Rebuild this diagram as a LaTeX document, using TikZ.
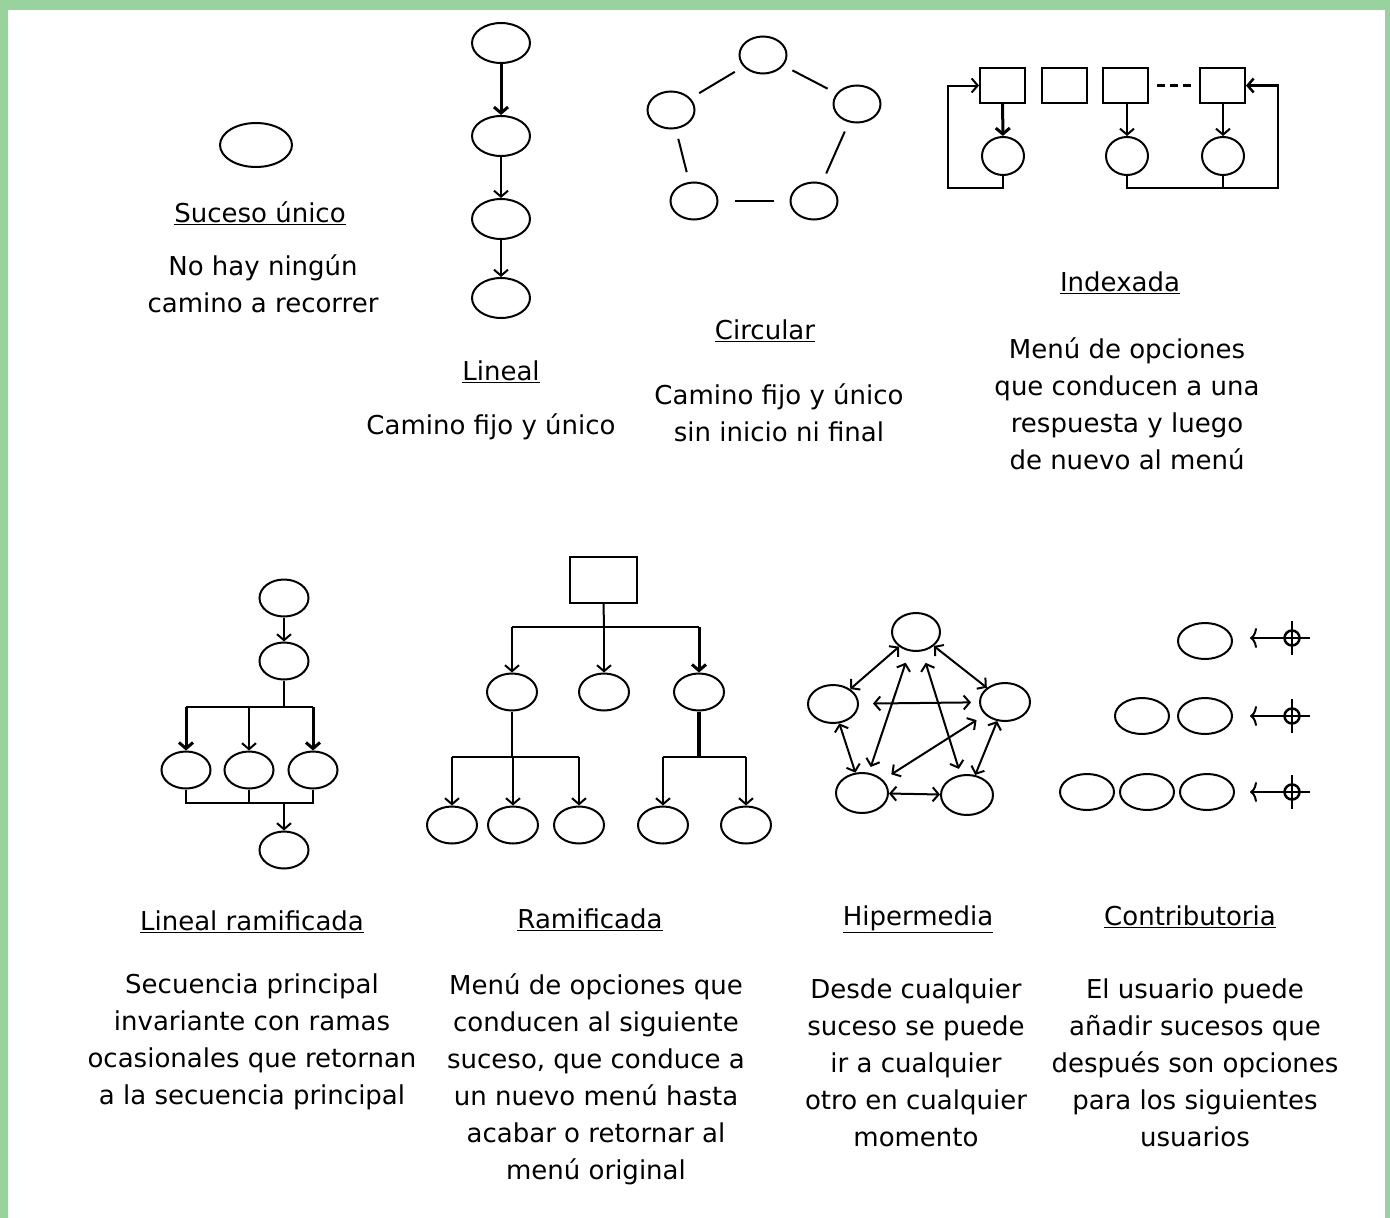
\documentclass[tikz,border=0pt]{standalone}
\usepackage{fontspec}
\setmainfont{DejaVu Sans}
\usetikzlibrary{shapes.geometric,arrows.meta}
\definecolor{frame}{HTML}{98D39E}
\tikzset{
  ev/.style={draw, ellipse, line width=2pt, minimum width=48pt, minimum height=37pt, inner sep=0pt},
  boxn/.style={draw, rectangle, line width=2pt, minimum width=45pt, minimum height=35pt, inner sep=0pt},
  con/.style={line width=2pt},
  arr/.style={con, -{Straight Barb[length=6pt,width=14pt]}},
  darr/.style={con, {Straight Barb[length=6pt,width=14pt]}-{Straight Barb[length=6pt,width=14pt]}},
  harr/.style={con, -{To[length=7pt,width=20pt]}},
  ttl/.style={font=\fontsize{26}{37}\selectfont, inner sep=0pt},
  txt/.style={font=\fontsize{26}{37}\selectfont, align=center, inner sep=0pt},
}
\begin{document}
\begin{tikzpicture}[x=1pt,y=-1pt]
\fill[frame] (0,0) rectangle (1390,1218);
\fill[white] (8,10) rectangle (1385,1218);
\useasboundingbox (0,0) rectangle (1390,1218);

% ---------- Suceso unico
\node[ev, minimum width=72pt, minimum height=44pt] (s) at (256,145) {};
\node[ttl, anchor=base] (st) at (260,222) {\underline{Suceso único}};
\node[txt] (sd) at (263,284) {No hay ningún\\camino a recorrer};

% ---------- Lineal
\node[ev, minimum width=58pt, minimum height=40pt] (l1) at (501,43) {};
\node[ev, minimum width=58pt, minimum height=40pt] (l2) at (501,136) {};
\node[ev, minimum width=58pt, minimum height=40pt] (l3) at (501,219) {};
\node[ev, minimum width=58pt, minimum height=40pt] (l4) at (501,298) {};
\draw[arr, line width=3pt] (l1) -- (l2);
\draw[arr] (l2) -- (l3);
\draw[arr] (l3) -- (l4);
\node[ttl, anchor=base] (lt) at (501,380) {\underline{Lineal}};
\node[txt] (ld) at (491,427) {Camino fijo y único};

% ---------- Circular
\node[ev, minimum width=47pt] (c1) at (763,55) {};
\node[ev, minimum width=47pt] (c2) at (671,110) {};
\node[ev, minimum width=47pt] (c3) at (857,104) {};
\node[ev, minimum width=47pt] (c4) at (694,201) {};
\node[ev, minimum width=47pt] (c5) at (814,201) {};
\draw[con, shorten <=10pt, shorten >=10pt] (c1) -- (c2);
\draw[con, shorten <=10pt, shorten >=10pt] (c1) -- (c3);
\draw[con, shorten <=10pt, shorten >=10pt] (c2) -- (c4);
\draw[con, shorten <=10pt, shorten >=10pt] (c3) -- (c5);
\draw[con, shorten <=16pt, shorten >=16pt] (c4) -- (c5);
\node[ttl, anchor=base] (ct) at (765,339) {\underline{Circular}};
\node[txt] (cd) at (779,413) {Camino fijo y único\\sin inicio ni final};

% ---------- Indexada
\node[boxn] (b1) at (1002.5,85.5) {};
\node[boxn] (b2) at (1064.5,85.5) {};
\node[boxn] (b3) at (1125.5,85.5) {};
\node[boxn] (b4) at (1222.5,85.5) {};
\node[ev, minimum width=42pt, minimum height=38pt] (i1) at (1003,156) {};
\node[ev, minimum width=42pt, minimum height=38pt] (i2) at (1127,156) {};
\node[ev, minimum width=42pt, minimum height=38pt] (i3) at (1223,156) {};
\coordinate (iL) at (948,188);
\coordinate (iR) at (1278,188);
\draw[con, line width=2.5pt, dash pattern=on 8pt off 5pt, shorten <=8pt, shorten >=4pt] (b3.east) -- (b4.west);
\draw[arr, line width=3pt] (b1) -- (i1);
\draw[arr] (b3.south -| i2) -- (i2);
\draw[arr] (b4.south -| i3) -- (i3);
\draw[arr] (i1.south) |- (iL) |- (b1.west);
\draw[arr, line width=2.5pt] (i2.south) |- (iR) |- (b4.east);
\draw[con] (i3.south) -- (i3.south |- iR);
\node[ttl, anchor=base] (it) at (1120,291) {\underline{Indexada}};
\node[txt] (id) at (1127,404) {Menú de opciones\\que conducen a una\\respuesta y luego\\de nuevo al menú};

% ---------- Lineal ramificada
\node[ev, minimum width=49pt] (r1) at (284,598) {};
\node[ev, minimum width=49pt] (r2) at (284,661) {};
\node[ev, minimum width=49pt] (r3) at (186,770) {};
\node[ev, minimum width=49pt] (r4) at (249,770) {};
\node[ev, minimum width=49pt] (r5) at (313,770) {};
\node[ev, minimum width=49pt] (r6) at (284,850) {};
\coordinate (rb1) at (284,707);
\coordinate (rb2) at (284,803);
\draw[arr] (r1) -- (r2);
\draw[con] (r2.south) -- (rb1);
\draw[con] (r3.north |- rb1) -- (r5.north |- rb1);
\draw[arr, line width=3pt] (r3.north |- rb1) -- (r3.north);
\draw[arr] (r4.north |- rb1) -- (r4.north);
\draw[arr, line width=3pt] (r5.north |- rb1) -- (r5.north);
\draw[con] (r3.south) -- (r3.south |- rb2) -- (r5.south |- rb2) -- (r5.south);
\draw[con] (r4.south) -- (r4.south |- rb2);
\draw[arr] (rb2) -- (r6.north);
\node[ttl, anchor=base] (rt) at (252,930) {\underline{Lineal ramificada}};
\node[txt] (rd) at (252,1042) {Secuencia principal\\invariante con ramas\\ocasionales que retornan\\a la secuencia principal};

% ---------- Ramificada
\node[boxn, minimum width=67pt, minimum height=46pt] (m) at (603.5,580) {};
\node[ev, minimum width=50pt] (a1) at (512,692) {};
\node[ev, minimum width=50pt] (a2) at (604,692) {};
\node[ev, minimum width=50pt] (a3) at (699,692) {};
\node[ev, minimum width=50pt] (d1) at (452,825) {};
\node[ev, minimum width=50pt] (d2) at (513,825) {};
\node[ev, minimum width=50pt] (d3) at (579,825) {};
\node[ev, minimum width=50pt] (d4) at (663,825) {};
\node[ev, minimum width=50pt] (d5) at (746,825) {};
\coordinate (mb) at (604,627);
\coordinate (ab1) at (512,757);
\coordinate (ab3) at (699,757);
\draw[con] (m.south) -- (mb);
\draw[con] (a1.north |- mb) -- (a3.north |- mb);
\draw[arr] (a1.north |- mb) -- (a1.north);
\draw[arr] (mb) -- (a2.north);
\draw[arr, line width=3pt] (a3.north |- mb) -- (a3.north);
\draw[con] (a1.south) -- (ab1);
\draw[con] (d1.north |- ab1) -- (d3.north |- ab1);
\draw[arr] (d1.north |- ab1) -- (d1.north);
\draw[arr] (d2.north |- ab1) -- (d2.north);
\draw[arr] (d3.north |- ab1) -- (d3.north);
\draw[con, line width=3.5pt] (a3.south) -- (ab3);
\draw[con] (d4.north |- ab3) -- (d5.north |- ab3);
\draw[arr] (d4.north |- ab3) -- (d4.north);
\draw[arr] (d5.north |- ab3) -- (d5.north);
\node[ttl, anchor=base] (mt) at (590,928) {\underline{Ramificada}};
\node[txt] (md) at (596,1079) {Menú de opciones que\\conducen al siguiente\\suceso, que conduce a\\un nuevo menú hasta\\acabar o retornar al\\menú original};

% ---------- Hipermedia
\node[ev, minimum width=48pt, minimum height=38pt] (h1) at (916,632) {};
\node[ev, minimum width=50pt, minimum height=38pt] (h2) at (833,704) {};
\node[ev, minimum width=50pt, minimum height=38pt] (h3) at (1005,702) {};
\node[ev, minimum width=52pt, minimum height=40pt] (h4) at (862,793) {};
\node[ev, minimum width=52pt, minimum height=40pt] (h5) at (967,795) {};
\draw[darr] (h1) -- (h2);
\draw[darr] (h1) -- (h3);
\draw[darr] (h2) -- (h4);
\draw[darr] (h3) -- (h5);
\draw[darr] (h4) -- (h5);
\draw[darr, shorten <=12pt, shorten >=6pt] (h1) -- (h4);
\draw[darr, shorten <=12pt, shorten >=6pt] (h1) -- (h5);
\draw[darr, shorten <=14pt, shorten >=8pt] (h2) -- (h3);
\draw[darr, shorten <=10pt, shorten >=10pt] (h4) -- (h3);
\node[ttl, anchor=base] (ht) at (918,925) {\underline{Hipermedia}};
\node[txt] (hd) at (916,1063) {Desde cualquier\\suceso se puede\\ir a cualquier\\otro en cualquier\\momento};

% ---------- Contributoria
\node[ev, minimum width=54pt, minimum height=36pt] (k1) at (1205,641) {};
\node[ev, minimum width=54pt, minimum height=36pt] (k2) at (1142,716) {};
\node[ev, minimum width=54pt, minimum height=36pt] (k3) at (1205,716) {};
\node[ev, minimum width=54pt, minimum height=36pt] (k4) at (1087,792) {};
\node[ev, minimum width=54pt, minimum height=36pt] (k5) at (1147,792) {};
\node[ev, minimum width=54pt, minimum height=36pt] (k6) at (1207,792) {};
\foreach \n/\yy in {1/638, 2/716, 3/792}{
  \node[draw, circle, line width=2.5pt, minimum size=15pt, inner sep=0pt] (p\n) at (1292,\yy) {};
  \coordinate (q\n) at (1250,\yy);
  \draw[harr] ([xshift=18pt]p\n.center) -- (q\n);
  \draw[con] ([yshift=-17pt]p\n.center) -- ([yshift=17pt]p\n.center);
}
\node[ttl, anchor=base] (kt) at (1190,925) {\underline{Contributoria}};
\node[txt] (kd) at (1195,1063) {El usuario puede\\añadir sucesos que\\después son opciones\\para los siguientes\\usuarios};
\end{tikzpicture}
\end{document}
